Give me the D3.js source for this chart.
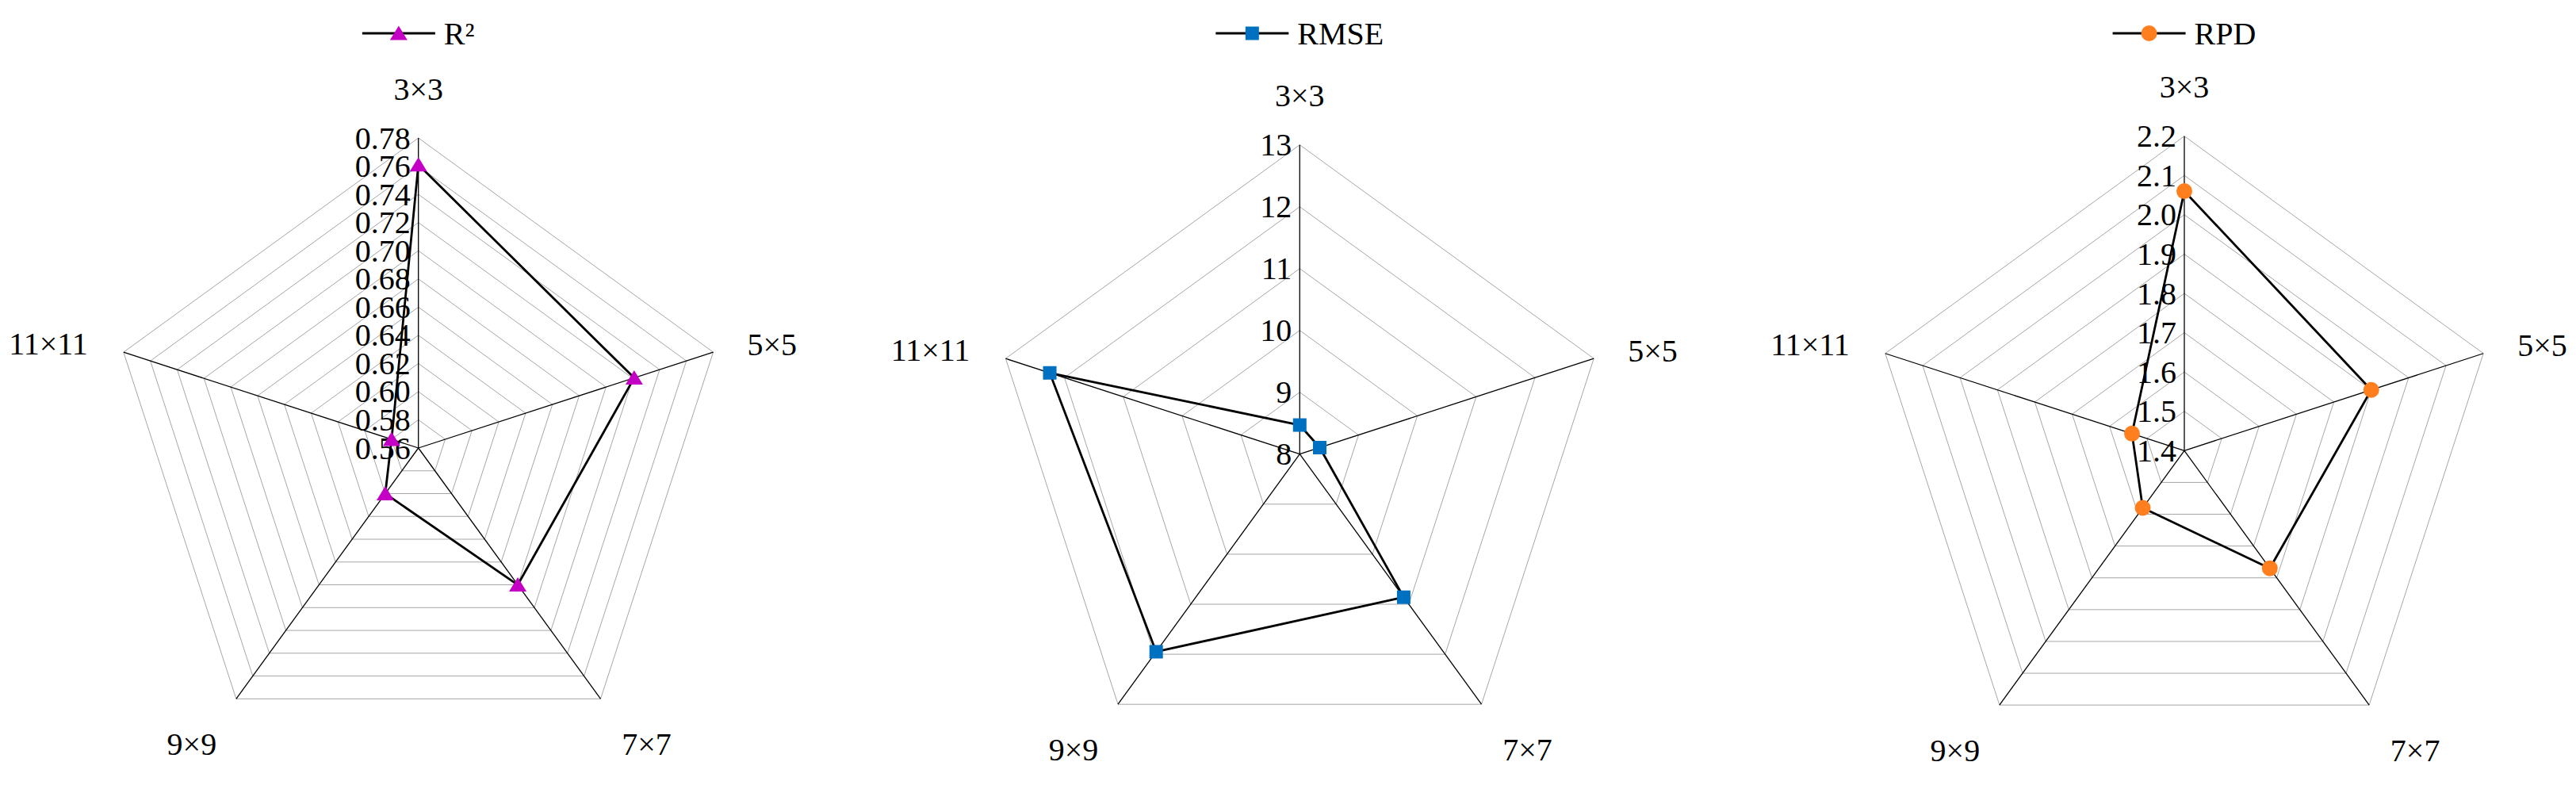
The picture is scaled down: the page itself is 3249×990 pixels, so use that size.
<!DOCTYPE html>
<html>
<head>
<meta charset="utf-8">
<script src="https://cdn.jsdelivr.net/npm/d3@7"></script>
<style>
  html, body { margin: 0; padding: 0; background: #ffffff; }
  svg { display: block; }
</style>
</head>
<body>
<svg id="chart" width="3249" height="990" font-family="'Liberation Serif', 'Times New Roman', serif"></svg>
<script>
// ---------------- data ----------------
const categories = ["3×3", "5×5", "7×7", "9×9", "11×11"];

const r2Values   = [0.761, 0.721, 0.680, 0.600, 0.580];
const rmseValues = [8.47, 8.34, 10.86, 11.95, 12.25];
const rpdValues  = [2.06, 1.90, 1.77, 1.58, 1.54];

const r2Ticks   = [0.56, 0.58, 0.60, 0.62, 0.64, 0.66, 0.68, 0.70, 0.72, 0.74, 0.76, 0.78];
const rmseTicks = [8, 9, 10, 11, 12, 13];
const rpdTicks  = [1.4, 1.5, 1.6, 1.7, 1.8, 1.9, 2.0, 2.1, 2.2];

const seriesNames = ["R²", "RMSE", "RPD"];

// ---------------- drawing ----------------
const svg = d3.select("#chart");
const FONT = 40;
const FAMILY = "'Liberation Serif', 'Times New Roman', serif";

function markerPath(type) {
  if (type === "triangle") return "M0,-9.5L11,8.5L-11,8.5Z";
  if (type === "square") return "M-8.5,-8.5H8.5V8.5H-8.5Z";
  return d3.symbol(d3.symbolCircle, Math.PI * 10 * 10)();
}

function drawRadar(cfg) {
  const g = svg.append("g");
  const n = categories.length;
  const ang = d3.scaleLinear().domain([0, n]).range([0, 2 * Math.PI]);
  const rScale = d3.scaleLinear().domain([cfg.ticks[0], cfg.ticks[cfg.ticks.length - 1]]).range([0, cfg.R]);
  const px = (i, r) => cfg.cx + r * Math.sin(ang(i));
  const py = (i, r) => cfg.cy - r * Math.cos(ang(i));

  const ring = d3.line().curve(d3.curveLinearClosed);

  // grid rings
  g.selectAll("path.ring")
    .data(cfg.ticks.slice(1))
    .join("path")
    .attr("class", "ring")
    .attr("d", t => ring(d3.range(n).map(i => [px(i, rScale(t)), py(i, rScale(t))])))
    .attr("fill", "none")
    .attr("stroke", "#a6a6a6")
    .attr("stroke-width", 1);

  // spokes
  g.selectAll("line.spoke")
    .data(d3.range(n))
    .join("line")
    .attr("class", "spoke")
    .attr("x1", cfg.cx).attr("y1", cfg.cy)
    .attr("x2", i => px(i, cfg.R)).attr("y2", i => py(i, cfg.R))
    .attr("stroke", "#000")
    .attr("stroke-width", 1.3);

  // tick labels
  g.selectAll("text.tick")
    .data(cfg.ticks)
    .join("text")
    .attr("class", "tick")
    .attr("x", cfg.cx - 10)
    .attr("y", t => cfg.cy - rScale(t))
    .attr("text-anchor", "end")
    .attr("dominant-baseline", "central")
    .attr("font-family", FAMILY)
    .attr("font-size", FONT)
    .text(t => d3.format(cfg.fmt)(t));

  // data line
  const pts = cfg.values.map((v, i) => [px(i, rScale(v)), py(i, rScale(v))]);
  g.append("path")
    .attr("d", ring(pts))
    .attr("fill", "none")
    .attr("stroke", "#000")
    .attr("stroke-width", 2.8)
    .attr("stroke-linejoin", "round");

  // markers
  g.selectAll("path.mk")
    .data(pts)
    .join("path")
    .attr("class", "mk")
    .attr("transform", d => `translate(${d[0]},${d[1]})`)
    .attr("d", markerPath(cfg.marker))
    .attr("fill", cfg.color);

  // category labels
  const off = [
    { dx: 0, dy: -62, anchor: "middle" },
    { dx: 43, dy: -10, anchor: "start" },
    { dx: 58, dy: 57, anchor: "middle" },
    { dx: -56, dy: 57, anchor: "middle" },
    { dx: -45, dy: -11, anchor: "end" }
  ];
  g.selectAll("text.cat")
    .data(categories)
    .join("text")
    .attr("class", "cat")
    .attr("x", (d, i) => px(i, cfg.R) + off[i].dx)
    .attr("y", (d, i) => py(i, cfg.R) + off[i].dy)
    .attr("text-anchor", (d, i) => off[i].anchor)
    .attr("dominant-baseline", "central")
    .attr("font-family", FAMILY)
    .attr("font-size", FONT)
    .text(d => d);

  // legend
  const lg = g.append("g");
  lg.append("line")
    .attr("x1", 0).attr("x2", 92).attr("y1", 0).attr("y2", 0)
    .attr("stroke", "#000").attr("stroke-width", 2.8);
  lg.append("path")
    .attr("transform", "translate(46,0)")
    .attr("d", markerPath(cfg.marker))
    .attr("fill", cfg.color);
  lg.append("text")
    .attr("x", 103).attr("y", 0)
    .attr("dominant-baseline", "central")
    .attr("font-family", FAMILY)
    .attr("font-size", FONT)
    .text(cfg.name);
  const bb = lg.node().getBBox();
  lg.attr("transform", `translate(${cfg.cx - (bb.x + bb.width / 2)},42)`);
}

drawRadar({ cx: 527.7, cy: 565, R: 391, ticks: r2Ticks, fmt: ".2f", values: r2Values,
  marker: "triangle", color: "#c400c4", name: seriesNames[0] });
drawRadar({ cx: 1639.3, cy: 572.7, R: 390, ticks: rmseTicks, fmt: "d", values: rmseValues,
  marker: "square", color: "#0070c0", name: seriesNames[1] });
drawRadar({ cx: 2755, cy: 568.3, R: 396.6, ticks: rpdTicks, fmt: ".1f", values: rpdValues,
  marker: "circle", color: "#ff7f1e", name: seriesNames[2] });
</script>
</body>
</html>
